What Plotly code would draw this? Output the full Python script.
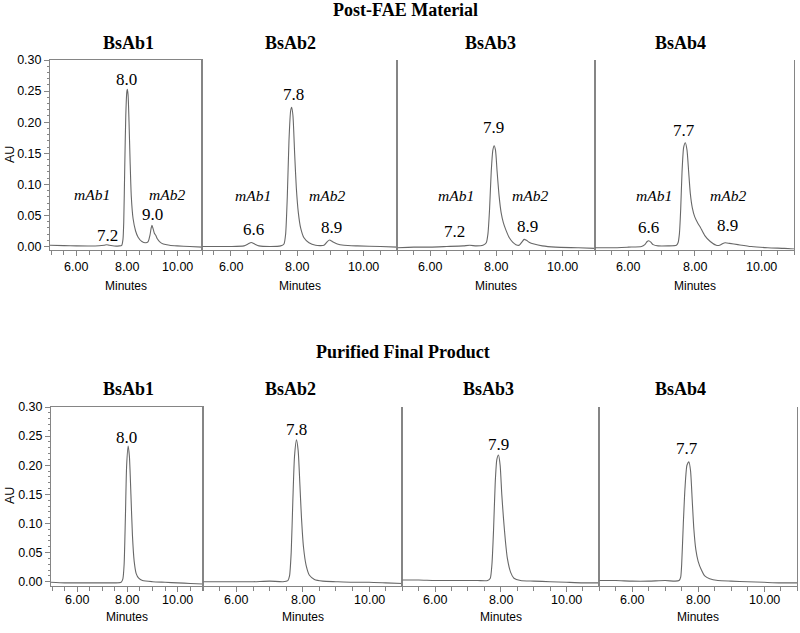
import plotly.graph_objects as go

W, H = 800, 633

# ---------------- DATA ----------------
# Post-FAE material
top_bsab1_t = [4.95, 5.5, 6.0, 6.5, 6.9, 7.1, 7.2, 7.3, 7.5, 7.7, 7.8, 7.85, 7.88, 7.92, 7.96, 8.0, 8.02,
               8.05, 8.09, 8.13, 8.18, 8.25, 8.35, 8.45, 8.6, 8.75, 8.85, 8.92, 8.97, 9.0, 9.05, 9.1,
               9.15, 9.22, 9.3, 9.45, 9.7, 10.0, 10.5, 11.0]
top_bsab1_au = [0.002, 0.0015, 0.001, 0.0008, 0.0012, 0.002, 0.0028, 0.002, 0.0008, 0.001, 0.002, 0.012,
                0.04, 0.13, 0.21, 0.248, 0.253, 0.245, 0.20, 0.14, 0.08, 0.045, 0.025, 0.015, 0.008,
                0.006, 0.008, 0.018, 0.03, 0.034, 0.028, 0.021, 0.018, 0.012, 0.008, 0.004, 0.002,
                0.001, 0.0, -0.001]

top_bsab2_t = [5.15, 5.6, 6.0, 6.4, 6.52, 6.62, 6.72, 6.85, 7.2, 7.5, 7.6, 7.65, 7.7, 7.75, 7.8, 7.83,
               7.87, 7.92, 7.97, 8.03, 8.1, 8.2, 8.35, 8.55, 8.8, 8.9, 8.97, 9.05, 9.2, 9.4, 9.8,
               10.5, 11.0]
top_bsab2_au = [0.0, 0.0, 0.0, 0.001, 0.004, 0.0065, 0.004, 0.001, 0.0, 0.001, 0.004, 0.02, 0.08,
                0.17, 0.218, 0.224, 0.21, 0.15, 0.095, 0.055, 0.03, 0.014, 0.006, 0.002, 0.002,
                0.008, 0.0105, 0.008, 0.004, 0.002, 0.001, 0.0, -0.001]

top_bsab3_t = [5.0, 5.5, 6.0, 6.5, 7.0, 7.2, 7.4, 7.6, 7.7, 7.75, 7.8, 7.85, 7.9, 7.94, 7.98, 8.03,
               8.09, 8.15, 8.22, 8.3, 8.4, 8.5, 8.6, 8.7, 8.78, 8.85, 8.92, 9.0, 9.15, 9.4, 9.8,
               10.5, 11.0]
top_bsab3_au = [-0.002, -0.001, -0.001, 0.0, 0.001, 0.002, 0.001, 0.002, 0.006, 0.02, 0.06, 0.12,
                0.155, 0.162, 0.155, 0.12, 0.081, 0.055, 0.038, 0.026, 0.014, 0.007, 0.003, 0.002,
                0.007, 0.0115, 0.01, 0.007, 0.004, 0.001, -0.001, -0.002, -0.003]

top_bsab4_t = [5.0, 5.5, 6.0, 6.4, 6.5, 6.57, 6.62, 6.68, 6.75, 6.9, 7.2, 7.45, 7.5, 7.54, 7.58,
               7.62, 7.67, 7.72, 7.77, 7.82, 7.87, 7.93, 8.0, 8.1, 8.17, 8.3, 8.47, 8.65, 8.75,
               8.85, 8.92, 9.05, 9.3, 9.7, 10.2, 10.7, 11.0]
top_bsab4_au = [-0.002, -0.002, -0.001, 0.0, 0.003, 0.008, 0.0093, 0.007, 0.003, 0.001, 0.001,
                0.002, 0.006, 0.02, 0.06, 0.12, 0.16, 0.167, 0.155, 0.12, 0.085, 0.062, 0.048,
                0.037, 0.031, 0.018, 0.008, 0.002, 0.002, 0.005, 0.006, 0.005, 0.003, 0.0,
                -0.002, -0.003, -0.004]

# Purified final product
bot_bsab1_t = [4.96, 5.5, 6.0, 6.5, 7.0, 7.5, 7.75, 7.82, 7.87, 7.92, 7.97, 8.03, 8.08, 8.14, 8.2,
               8.27, 8.35, 8.45, 8.6, 9.0, 9.5, 10.0, 10.5, 11.0]
bot_bsab1_au = [-0.001, -0.002, -0.002, -0.002, -0.002, -0.002, -0.001, 0.005, 0.03, 0.11, 0.2,
                0.233, 0.215, 0.15, 0.08, 0.035, 0.014, 0.006, 0.002, 0.0, -0.001, -0.002,
                -0.003, -0.004]

bot_bsab2_t = [5.0, 5.5, 6.0, 6.5, 7.0, 7.4, 7.55, 7.6, 7.65, 7.7, 7.75, 7.81, 7.86, 7.91, 7.96,
               8.02, 8.1, 8.2, 8.35, 8.6, 9.0, 9.5, 10.0, 10.5, 11.0]
bot_bsab2_au = [0.0, 0.0, 0.0, 0.0, 0.001, 0.0, 0.002, 0.01, 0.05, 0.14, 0.215, 0.2435, 0.225,
                0.17, 0.11, 0.06, 0.028, 0.011, 0.004, 0.001, 0.0, -0.001, -0.001, -0.002, -0.003]

bot_bsab3_t = [5.0, 5.5, 6.0, 6.5, 7.0, 7.3, 7.6, 7.68, 7.73, 7.78, 7.83, 7.88, 7.93, 7.98, 8.03,
               8.08, 8.14, 8.2, 8.3, 8.4, 8.6, 9.0, 9.5, 10.0, 10.5, 11.0]
bot_bsab3_au = [0.003, 0.003, 0.002, 0.002, 0.002, 0.002, 0.002, 0.006, 0.03, 0.09, 0.17, 0.21,
                0.2177, 0.2, 0.15, 0.11, 0.07, 0.04, 0.016, 0.006, 0.002, 0.001, 0.0, -0.001,
                -0.002, -0.002]

bot_bsab4_t = [5.0, 5.5, 6.0, 6.5, 7.0, 7.3, 7.42, 7.47, 7.5, 7.55, 7.6, 7.66, 7.72, 7.77, 7.82,
               7.87, 7.93, 8.0, 8.1, 8.2, 8.35, 8.6, 9.0, 9.5, 10.0, 10.5, 11.0]
bot_bsab4_au = [0.002, 0.002, 0.001, 0.001, 0.002, 0.001, 0.002, 0.008, 0.03, 0.1, 0.16, 0.2,
                0.206, 0.19, 0.14, 0.09, 0.055, 0.035, 0.02, 0.01, 0.005, 0.002, 0.001, 0.0,
                -0.001, -0.002, -0.002]

sample_names = ["BsAb1", "BsAb2", "BsAb3", "BsAb4"]
row_titles = ["Post-FAE Material", "Purified Final Product"]

x_tick_vals = [6, 8, 10]
x_tick_text = ["6.00", "8.00", "10.00"]
y_tick_vals = [0.0, 0.05, 0.10, 0.15, 0.20, 0.25, 0.30]
y_tick_text = ["0.00", "0.05", "0.10", "0.15", "0.20", "0.25", "0.30"]

# peak labels: (text, time, AU position)
top_peak_labels = [
    [("8.0", 8.0, 0.269), ("7.2", 7.23, 0.0185), ("9.0", 9.02, 0.0507)],
    [("7.8", 7.88, 0.245), ("6.6", 6.68, 0.0277), ("8.9", 9.03, 0.031)],
    [("7.9", 7.93, 0.192), ("7.2", 6.73, 0.024), ("8.9", 8.94, 0.033)],
    [("7.7", 7.69, 0.186), ("6.6", 6.62, 0.031), ("8.9", 8.99, 0.0346)],
]
top_mab_labels = [
    [("mAb1", 6.62, 0.084), ("mAb2", 9.58, 0.084)],
    [("mAb1", 6.68, 0.082), ("mAb2", 8.9, 0.082)],
    [("mAb1", 6.78, 0.082), ("mAb2", 9.04, 0.082)],
    [("mAb1", 6.77, 0.082), ("mAb2", 8.99, 0.082)],
]
bot_peak_labels = [
    [("8.0", 7.98, 0.248)],
    [("7.8", 7.81, 0.262)],
    [("7.9", 7.92, 0.235)],
    [("7.7", 7.66, 0.229)],
]

# ---------------- LAYOUT SPEC (pixels) ----------------
top_series = [(top_bsab1_t, top_bsab1_au), (top_bsab2_t, top_bsab2_au),
              (top_bsab3_t, top_bsab3_au), (top_bsab4_t, top_bsab4_au)]
bot_series = [(bot_bsab1_t, bot_bsab1_au), (bot_bsab2_t, bot_bsab2_au),
              (bot_bsab3_t, bot_bsab3_au), (bot_bsab4_t, bot_bsab4_au)]

rows = [
    dict(series=top_series, peaks=top_peak_labels, mabs=top_mab_labels,
         xdoms=[(50, 202.3), (202.3, 397.3), (397.3, 595), (595, 794.3)],
         xranges=[[4.95, 11.0], [5.15, 11.0], [5.0, 11.0], [5.0, 11.0]],
         ytop=60, ybot=249.5, yrange=[-0.0048, 0.30],
         title_y=10, title_x=405, sub_y=43, sub_x=[128, 290, 490, 680],
         tick_y=267, minutes_y=286, au_y=155),
    dict(series=bot_series, peaks=bot_peak_labels, mabs=[[], [], [], []],
         xdoms=[(51, 203.3), (203.3, 402.3), (402.3, 599.3), (599.3, 797)],
         xranges=[[4.96, 11.02], [5.0, 11.0], [5.0, 11.0], [5.0, 11.0]],
         ytop=407, ybot=585.5, yrange=[-0.0065, 0.30],
         title_y=352, title_x=403, sub_y=389, sub_x=[128, 290, 489, 680],
         tick_y=600, minutes_y=617, au_y=496),
]

SERIF = "Liberation Serif, Times New Roman, serif"
SANS = "Liberation Sans, Arial, sans-serif"
AXIS_COLOR = "#858585"
LINE_COLOR = "#686868"

fig = go.Figure()
layout = dict(width=W, height=H, margin=dict(l=0, r=0, t=0, b=0, autoexpand=False),
              paper_bgcolor="white", plot_bgcolor="white", showlegend=False)
annotations = []

def px(x):
    return x / W

def py(y):
    return 1 - y / H

k = 0
for r, row in enumerate(rows):
    for c in range(4):
        k += 1
        xa = "xaxis" if k == 1 else f"xaxis{k}"
        ya = "yaxis" if k == 1 else f"yaxis{k}"
        xr = "x" if k == 1 else f"x{k}"
        yr = "y" if k == 1 else f"y{k}"
        t, au = row["series"][c]
        fig.add_trace(go.Scatter(x=t, y=au, mode="lines", xaxis=xr, yaxis=yr,
                                 line=dict(color=LINE_COLOR, width=1.1, shape="spline", smoothing=0.6),
                                 hoverinfo="skip"))
        d0, d1 = row["xdoms"][c]
        layout[xa] = dict(domain=[px(d0), px(d1)], range=row["xranges"][c], anchor=yr,
                          showgrid=False, zeroline=False, showline=True, linecolor=AXIS_COLOR,
                          linewidth=1, mirror=(c == 0), ticks="outside", ticklen=5,
                          tickcolor=AXIS_COLOR, tickvals=x_tick_vals, ticktext=x_tick_text,
                          showticklabels=False,
                          minor=dict(tickmode="linear", tick0=5, dtick=0.5, ticks="outside",
                                     ticklen=4, tickcolor=AXIS_COLOR, showgrid=False))
        ydict = dict(domain=[py(row["ybot"]), py(row["ytop"])], range=row["yrange"], anchor=xr,
                     showgrid=False, zeroline=False, showline=True, linecolor=AXIS_COLOR,
                     linewidth=1, mirror=True)
        if c == 0:
            ydict.update(ticks="outside", ticklen=5, tickcolor=AXIS_COLOR,
                         tickvals=y_tick_vals, ticktext=y_tick_text,
                         tickfont=dict(family=SANS, size=12.5, color="black"),
                         minor=dict(tickmode="linear", tick0=0, dtick=0.01, ticks="outside",
                                    ticklen=2.5, tickcolor=AXIS_COLOR, showgrid=False))
        else:
            ydict.update(ticks="", showticklabels=False)
        layout[ya] = ydict

        # x tick labels placed at their axis values
        for v, s in zip(x_tick_vals, x_tick_text):
            annotations.append(dict(x=v, xref=xr, y=py(row["tick_y"]), yref="paper", text=s,
                                    showarrow=False, xanchor="center", yanchor="middle",
                                    font=dict(family=SANS, size=12.5, color="black")))
        # Minutes
        annotations.append(dict(x=(px(d0) + px(d1)) / 2, xref="paper", y=py(row["minutes_y"]),
                                yref="paper", text="Minutes", showarrow=False,
                                xanchor="center", yanchor="middle",
                                font=dict(family=SANS, size=12, color="black")))
        # sample title
        annotations.append(dict(x=px(row["sub_x"][c]), xref="paper", y=py(row["sub_y"]),
                                yref="paper", text=f"<b>{sample_names[c]}</b>", showarrow=False,
                                xanchor="center", yanchor="middle",
                                font=dict(family=SERIF, size=18, color="black")))
        for s, xv, yv in row["peaks"][c]:
            annotations.append(dict(x=xv, xref=xr, y=yv, yref=yr, text=s, showarrow=False,
                                    xanchor="center", yanchor="middle",
                                    font=dict(family=SERIF, size=17, color="black")))
        for s, xv, yv in row["mabs"][c]:
            annotations.append(dict(x=xv, xref=xr, y=yv, yref=yr, text=f"<i>{s}</i>",
                                    showarrow=False, xanchor="center", yanchor="middle",
                                    font=dict(family=SERIF, size=15.5, color="black")))
    # row title
    annotations.append(dict(x=px(row["title_x"]), xref="paper", y=py(row["title_y"]), yref="paper",
                            text=f"<b>{row_titles[r]}</b>", showarrow=False,
                            xanchor="center", yanchor="middle",
                            font=dict(family=SERIF, size=18, color="black")))
    annotations.append(dict(x=px(10), xref="paper", y=py(row["au_y"]), yref="paper", text="AU",
                            textangle=-90, showarrow=False, xanchor="center", yanchor="middle",
                            font=dict(family=SANS, size=12.5, color="black")))

layout["annotations"] = annotations
fig.update_layout(**layout)
fig.write_html("out.html", config={"displayModeBar": False, "staticPlot": True},
               post_script="document.body.style.margin='0';document.body.style.padding='0';"
                           "document.documentElement.style.overflow='hidden';")
